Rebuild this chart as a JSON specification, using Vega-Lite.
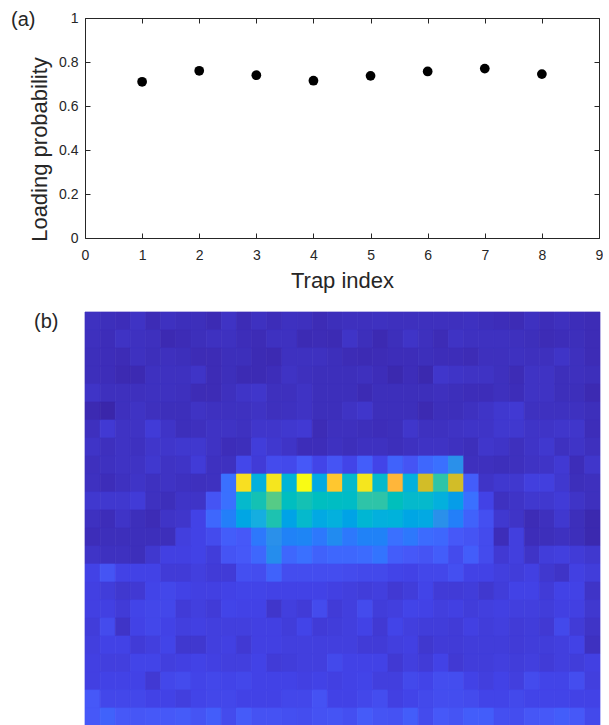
{"$schema":"https://vega.github.io/schema/vega-lite/v6.json","padding":{"left":11,"top":10,"right":0,"bottom":0},"background":"white","spacing":20,"config":{"view":{"stroke":null},"font":"Liberation Sans"},
"vconcat":[
{"width":514,"height":220,"title":{"text":"(a)","anchor":"start","frame":"group","dx":-74,"dy":5,"offset":-14,"fontSize":20,"fontWeight":"normal","font":"Liberation Sans","color":"#262626"},
"data":{"values":[{"t":1,"p":0.71},{"t":2,"p":0.76},{"t":3,"p":0.74},{"t":4,"p":0.715},{"t":5,"p":0.737},{"t":6,"p":0.757},{"t":7,"p":0.77},{"t":8,"p":0.745}]},
"layer":[
{"mark":{"type":"point","filled":true,"color":"black","opacity":1,"size":95},
"encoding":{"x":{"field":"t","type":"quantitative","scale":{"domain":[0,9],"nice":false},"axis":{"title":"Trap index","titleFontSize":22,"titleFontWeight":"normal","titleColor":"#262626","titlePadding":8,"labelFontSize":14,"labelColor":"#262626","labelPadding":15,"tickCount":10,"tickSize":-5,"tickColor":"#262626","domainColor":"#262626","grid":false,"labelAngle":0,"labelFlush":false}},
"y":{"field":"p","type":"quantitative","scale":{"domain":[0,1],"nice":false},"axis":{"title":"Loading probability","titleFontSize":22,"titleFontWeight":"normal","titleColor":"#262626","titlePadding":7,"titleY":131,"labelFontSize":14,"labelColor":"#262626","labelPadding":12,"values":[0,0.2,0.4,0.6,0.8,1],"labelExpr":"datum.value","tickSize":-5,"tickColor":"#262626","domainColor":"#262626","grid":false,"labelFlush":false}}}},
{"mark":{"type":"point","opacity":0},
"encoding":{"x":{"field":"t","type":"quantitative","scale":{"domain":[0,9],"nice":false},"axis":{"orient":"top","title":null,"labels":false,"tickCount":10,"tickSize":-5,"tickColor":"#262626","domainColor":"#262626","grid":false}},
"y":{"field":"p","type":"quantitative","scale":{"domain":[0,1],"nice":false},"axis":{"orient":"right","title":null,"labels":false,"values":[0,0.2,0.4,0.6,0.8,1],"tickSize":-5,"tickColor":"#262626","domainColor":"#262626","grid":false}}}}
],"resolve":{"axis":{"x":"independent","y":"independent"}}},
{"width":515,"height":414,"title":{"text":"(b)","anchor":"start","frame":"group","dx":-51,"dy":6,"offset":-14,"fontSize":20,"fontWeight":"normal","font":"Liberation Sans","color":"#262626"},
"data":{"values":[
{"c":0,"r":0,"v":0.05},{"c":1,"r":0,"v":0.04},{"c":2,"r":0,"v":0.035},{"c":3,"r":0,"v":0.055},{"c":4,"r":0,"v":0.03},{"c":5,"r":0,"v":0.05},{"c":6,"r":0,"v":0.04},{"c":7,"r":0,"v":0.04},{"c":8,"r":0,"v":0.025},{"c":9,"r":0,"v":0.055},{"c":10,"r":0,"v":0.03},{"c":11,"r":0,"v":0.05},{"c":12,"r":0,"v":0.035},{"c":13,"r":0,"v":0.05},{"c":14,"r":0,"v":0.045},{"c":15,"r":0,"v":0.03},{"c":16,"r":0,"v":0.04},{"c":17,"r":0,"v":0.045},{"c":18,"r":0,"v":0.045},{"c":19,"r":0,"v":0.05},{"c":20,"r":0,"v":0.045},{"c":21,"r":0,"v":0.045},{"c":22,"r":0,"v":0.045},{"c":23,"r":0,"v":0.045},{"c":24,"r":0,"v":0.045},{"c":25,"r":0,"v":0.05},{"c":26,"r":0,"v":0.04},{"c":27,"r":0,"v":0.035},{"c":28,"r":0,"v":0.03},{"c":29,"r":0,"v":0.05},{"c":30,"r":0,"v":0.035},{"c":31,"r":0,"v":0.045},{"c":32,"r":0,"v":0.035},{"c":33,"r":0,"v":0.03},
{"c":0,"r":1,"v":0.045},{"c":1,"r":1,"v":0.035},{"c":2,"r":1,"v":0.055},{"c":3,"r":1,"v":0.05},{"c":4,"r":1,"v":0.045},{"c":5,"r":1,"v":0.02},{"c":6,"r":1,"v":0.03},{"c":7,"r":1,"v":0.04},{"c":8,"r":1,"v":0.05},{"c":9,"r":1,"v":0.05},{"c":10,"r":1,"v":0.035},{"c":11,"r":1,"v":0.03},{"c":12,"r":1,"v":0.05},{"c":13,"r":1,"v":0.05},{"c":14,"r":1,"v":0.025},{"c":15,"r":1,"v":0.03},{"c":16,"r":1,"v":0.025},{"c":17,"r":1,"v":0.06},{"c":18,"r":1,"v":0.04},{"c":19,"r":1,"v":0.02},{"c":20,"r":1,"v":0.04},{"c":21,"r":1,"v":0.06},{"c":22,"r":1,"v":0.045},{"c":23,"r":1,"v":0.03},{"c":24,"r":1,"v":0.055},{"c":25,"r":1,"v":0.05},{"c":26,"r":1,"v":0.05},{"c":27,"r":1,"v":0.05},{"c":28,"r":1,"v":0.045},{"c":29,"r":1,"v":0.04},{"c":30,"r":1,"v":0.03},{"c":31,"r":1,"v":0.035},{"c":32,"r":1,"v":0.04},{"c":33,"r":1,"v":0.03},
{"c":0,"r":2,"v":0.04},{"c":1,"r":2,"v":0.035},{"c":2,"r":2,"v":0.03},{"c":3,"r":2,"v":0.05},{"c":4,"r":2,"v":0.04},{"c":5,"r":2,"v":0.045},{"c":6,"r":2,"v":0.04},{"c":7,"r":2,"v":0.03},{"c":8,"r":2,"v":0.03},{"c":9,"r":2,"v":0.04},{"c":10,"r":2,"v":0.04},{"c":11,"r":2,"v":0.025},{"c":12,"r":2,"v":0.02},{"c":13,"r":2,"v":0.05},{"c":14,"r":2,"v":0.05},{"c":15,"r":2,"v":0.05},{"c":16,"r":2,"v":0.04},{"c":17,"r":2,"v":0.03},{"c":18,"r":2,"v":0.025},{"c":19,"r":2,"v":0.03},{"c":20,"r":2,"v":0.035},{"c":21,"r":2,"v":0.035},{"c":22,"r":2,"v":0.04},{"c":23,"r":2,"v":0.035},{"c":24,"r":2,"v":0.035},{"c":25,"r":2,"v":0.03},{"c":26,"r":2,"v":0.045},{"c":27,"r":2,"v":0.045},{"c":28,"r":2,"v":0.05},{"c":29,"r":2,"v":0.045},{"c":30,"r":2,"v":0.045},{"c":31,"r":2,"v":0.06},{"c":32,"r":2,"v":0.045},{"c":33,"r":2,"v":0.03},
{"c":0,"r":3,"v":0.04},{"c":1,"r":3,"v":0.035},{"c":2,"r":3,"v":0.02},{"c":3,"r":3,"v":0.02},{"c":4,"r":3,"v":0.05},{"c":5,"r":3,"v":0.05},{"c":6,"r":3,"v":0.05},{"c":7,"r":3,"v":0.06},{"c":8,"r":3,"v":0.03},{"c":9,"r":3,"v":0.04},{"c":10,"r":3,"v":0.025},{"c":11,"r":3,"v":0.025},{"c":12,"r":3,"v":0.035},{"c":13,"r":3,"v":0.055},{"c":14,"r":3,"v":0.045},{"c":15,"r":3,"v":0.04},{"c":16,"r":3,"v":0.04},{"c":17,"r":3,"v":0.04},{"c":18,"r":3,"v":0.045},{"c":19,"r":3,"v":0.035},{"c":20,"r":3,"v":0.015},{"c":21,"r":3,"v":0.035},{"c":22,"r":3,"v":0.015},{"c":23,"r":3,"v":0.065},{"c":24,"r":3,"v":0.06},{"c":25,"r":3,"v":0.055},{"c":26,"r":3,"v":0.055},{"c":27,"r":3,"v":0.045},{"c":28,"r":3,"v":0.03},{"c":29,"r":3,"v":0.055},{"c":30,"r":3,"v":0.055},{"c":31,"r":3,"v":0.04},{"c":32,"r":3,"v":0.045},{"c":33,"r":3,"v":0.04},
{"c":0,"r":4,"v":0.06},{"c":1,"r":4,"v":0.045},{"c":2,"r":4,"v":0.045},{"c":3,"r":4,"v":0.045},{"c":4,"r":4,"v":0.05},{"c":5,"r":4,"v":0.05},{"c":6,"r":4,"v":0.045},{"c":7,"r":4,"v":0.03},{"c":8,"r":4,"v":0.03},{"c":9,"r":4,"v":0.045},{"c":10,"r":4,"v":0.06},{"c":11,"r":4,"v":0.065},{"c":12,"r":4,"v":0.045},{"c":13,"r":4,"v":0.045},{"c":14,"r":4,"v":0.055},{"c":15,"r":4,"v":0.04},{"c":16,"r":4,"v":0.04},{"c":17,"r":4,"v":0.04},{"c":18,"r":4,"v":0.025},{"c":19,"r":4,"v":0.04},{"c":20,"r":4,"v":0.04},{"c":21,"r":4,"v":0.04},{"c":22,"r":4,"v":0.04},{"c":23,"r":4,"v":0.045},{"c":24,"r":4,"v":0.04},{"c":25,"r":4,"v":0.035},{"c":26,"r":4,"v":0.035},{"c":27,"r":4,"v":0.045},{"c":28,"r":4,"v":0.035},{"c":29,"r":4,"v":0.055},{"c":30,"r":4,"v":0.055},{"c":31,"r":4,"v":0.04},{"c":32,"r":4,"v":0.04},{"c":33,"r":4,"v":0.02},
{"c":0,"r":5,"v":0.02},{"c":1,"r":5,"v":0.005},{"c":2,"r":5,"v":0.045},{"c":3,"r":5,"v":0.055},{"c":4,"r":5,"v":0.045},{"c":5,"r":5,"v":0.04},{"c":6,"r":5,"v":0.04},{"c":7,"r":5,"v":0.055},{"c":8,"r":5,"v":0.05},{"c":9,"r":5,"v":0.05},{"c":10,"r":5,"v":0.05},{"c":11,"r":5,"v":0.055},{"c":12,"r":5,"v":0.045},{"c":13,"r":5,"v":0.05},{"c":14,"r":5,"v":0.055},{"c":15,"r":5,"v":0.04},{"c":16,"r":5,"v":0.04},{"c":17,"r":5,"v":0.055},{"c":18,"r":5,"v":0.065},{"c":19,"r":5,"v":0.04},{"c":20,"r":5,"v":0.04},{"c":21,"r":5,"v":0.04},{"c":22,"r":5,"v":0.02},{"c":23,"r":5,"v":0.04},{"c":24,"r":5,"v":0.04},{"c":25,"r":5,"v":0.05},{"c":26,"r":5,"v":0.06},{"c":27,"r":5,"v":0.07},{"c":28,"r":5,"v":0.075},{"c":29,"r":5,"v":0.05},{"c":30,"r":5,"v":0.05},{"c":31,"r":5,"v":0.05},{"c":32,"r":5,"v":0.05},{"c":33,"r":5,"v":0.04},
{"c":0,"r":6,"v":0.045},{"c":1,"r":6,"v":0.075},{"c":2,"r":6,"v":0.055},{"c":3,"r":6,"v":0.055},{"c":4,"r":6,"v":0.08},{"c":5,"r":6,"v":0.06},{"c":6,"r":6,"v":0.04},{"c":7,"r":6,"v":0.045},{"c":8,"r":6,"v":0.055},{"c":9,"r":6,"v":0.055},{"c":10,"r":6,"v":0.05},{"c":11,"r":6,"v":0.065},{"c":12,"r":6,"v":0.065},{"c":13,"r":6,"v":0.07},{"c":14,"r":6,"v":0.075},{"c":15,"r":6,"v":0.03},{"c":16,"r":6,"v":0.045},{"c":17,"r":6,"v":0.045},{"c":18,"r":6,"v":0.04},{"c":19,"r":6,"v":0.035},{"c":20,"r":6,"v":0.04},{"c":21,"r":6,"v":0.065},{"c":22,"r":6,"v":0.05},{"c":23,"r":6,"v":0.05},{"c":24,"r":6,"v":0.055},{"c":25,"r":6,"v":0.06},{"c":26,"r":6,"v":0.06},{"c":27,"r":6,"v":0.07},{"c":28,"r":6,"v":0.07},{"c":29,"r":6,"v":0.06},{"c":30,"r":6,"v":0.06},{"c":31,"r":6,"v":0.065},{"c":32,"r":6,"v":0.065},{"c":33,"r":6,"v":0.035},
{"c":0,"r":7,"v":0.06},{"c":1,"r":7,"v":0.045},{"c":2,"r":7,"v":0.055},{"c":3,"r":7,"v":0.05},{"c":4,"r":7,"v":0.065},{"c":5,"r":7,"v":0.065},{"c":6,"r":7,"v":0.07},{"c":7,"r":7,"v":0.07},{"c":8,"r":7,"v":0.055},{"c":9,"r":7,"v":0.035},{"c":10,"r":7,"v":0.04},{"c":11,"r":7,"v":0.085},{"c":12,"r":7,"v":0.07},{"c":13,"r":7,"v":0.06},{"c":14,"r":7,"v":0.035},{"c":15,"r":7,"v":0.035},{"c":16,"r":7,"v":0.05},{"c":17,"r":7,"v":0.04},{"c":18,"r":7,"v":0.05},{"c":19,"r":7,"v":0.05},{"c":20,"r":7,"v":0.04},{"c":21,"r":7,"v":0.05},{"c":22,"r":7,"v":0.055},{"c":23,"r":7,"v":0.055},{"c":24,"r":7,"v":0.05},{"c":25,"r":7,"v":0.04},{"c":26,"r":7,"v":0.065},{"c":27,"r":7,"v":0.06},{"c":28,"r":7,"v":0.045},{"c":29,"r":7,"v":0.06},{"c":30,"r":7,"v":0.07},{"c":31,"r":7,"v":0.05},{"c":32,"r":7,"v":0.06},{"c":33,"r":7,"v":0.045},
{"c":0,"r":8,"v":0.045},{"c":1,"r":8,"v":0.05},{"c":2,"r":8,"v":0.055},{"c":3,"r":8,"v":0.055},{"c":4,"r":8,"v":0.07},{"c":5,"r":8,"v":0.055},{"c":6,"r":8,"v":0.06},{"c":7,"r":8,"v":0.08},{"c":8,"r":8,"v":0.05},{"c":9,"r":8,"v":0.05},{"c":10,"r":8,"v":0.11},{"c":11,"r":8,"v":0.08},{"c":12,"r":8,"v":0.12},{"c":13,"r":8,"v":0.115},{"c":14,"r":8,"v":0.15},{"c":15,"r":8,"v":0.105},{"c":16,"r":8,"v":0.14},{"c":17,"r":8,"v":0.105},{"c":18,"r":8,"v":0.16},{"c":19,"r":8,"v":0.105},{"c":20,"r":8,"v":0.17},{"c":21,"r":8,"v":0.14},{"c":22,"r":8,"v":0.18},{"c":23,"r":8,"v":0.2},{"c":24,"r":8,"v":0.3},{"c":25,"r":8,"v":0.045},{"c":26,"r":8,"v":0.045},{"c":27,"r":8,"v":0.04},{"c":28,"r":8,"v":0.045},{"c":29,"r":8,"v":0.055},{"c":30,"r":8,"v":0.06},{"c":31,"r":8,"v":0.075},{"c":32,"r":8,"v":0.035},{"c":33,"r":8,"v":0.065},
{"c":0,"r":9,"v":0.05},{"c":1,"r":9,"v":0.035},{"c":2,"r":9,"v":0.05},{"c":3,"r":9,"v":0.06},{"c":4,"r":9,"v":0.05},{"c":5,"r":9,"v":0.055},{"c":6,"r":9,"v":0.05},{"c":7,"r":9,"v":0.045},{"c":8,"r":9,"v":0.05},{"c":9,"r":9,"v":0.2},{"c":10,"r":9,"v":0.96},{"c":11,"r":9,"v":0.42},{"c":12,"r":9,"v":0.97},{"c":13,"r":9,"v":0.45},{"c":14,"r":9,"v":1},{"c":15,"r":9,"v":0.38},{"c":16,"r":9,"v":0.92},{"c":17,"r":9,"v":0.5},{"c":18,"r":9,"v":0.97},{"c":19,"r":9,"v":0.5},{"c":20,"r":9,"v":0.875},{"c":21,"r":9,"v":0.42},{"c":22,"r":9,"v":0.8},{"c":23,"r":9,"v":0.6},{"c":24,"r":9,"v":0.8},{"c":25,"r":9,"v":0.16},{"c":26,"r":9,"v":0.06},{"c":27,"r":9,"v":0.07},{"c":28,"r":9,"v":0.07},{"c":29,"r":9,"v":0.09},{"c":30,"r":9,"v":0.09},{"c":31,"r":9,"v":0.07},{"c":32,"r":9,"v":0.04},{"c":33,"r":9,"v":0.045},
{"c":0,"r":10,"v":0.07},{"c":1,"r":10,"v":0.07},{"c":2,"r":10,"v":0.07},{"c":3,"r":10,"v":0.08},{"c":4,"r":10,"v":0.05},{"c":5,"r":10,"v":0.04},{"c":6,"r":10,"v":0.06},{"c":7,"r":10,"v":0.06},{"c":8,"r":10,"v":0.14},{"c":9,"r":10,"v":0.2},{"c":10,"r":10,"v":0.5},{"c":11,"r":10,"v":0.57},{"c":12,"r":10,"v":0.68},{"c":13,"r":10,"v":0.54},{"c":14,"r":10,"v":0.57},{"c":15,"r":10,"v":0.54},{"c":16,"r":10,"v":0.53},{"c":17,"r":10,"v":0.52},{"c":18,"r":10,"v":0.6},{"c":19,"r":10,"v":0.6},{"c":20,"r":10,"v":0.55},{"c":21,"r":10,"v":0.5},{"c":22,"r":10,"v":0.5},{"c":23,"r":10,"v":0.42},{"c":24,"r":10,"v":0.34},{"c":25,"r":10,"v":0.2},{"c":26,"r":10,"v":0.1},{"c":27,"r":10,"v":0.05},{"c":28,"r":10,"v":0.06},{"c":29,"r":10,"v":0.07},{"c":30,"r":10,"v":0.07},{"c":31,"r":10,"v":0.08},{"c":32,"r":10,"v":0.06},{"c":33,"r":10,"v":0.045},
{"c":0,"r":11,"v":0.05},{"c":1,"r":11,"v":0.035},{"c":2,"r":11,"v":0.06},{"c":3,"r":11,"v":0.04},{"c":4,"r":11,"v":0.03},{"c":5,"r":11,"v":0.06},{"c":6,"r":11,"v":0.065},{"c":7,"r":11,"v":0.1},{"c":8,"r":11,"v":0.18},{"c":9,"r":11,"v":0.24},{"c":10,"r":11,"v":0.37},{"c":11,"r":11,"v":0.4},{"c":12,"r":11,"v":0.58},{"c":13,"r":11,"v":0.36},{"c":14,"r":11,"v":0.5},{"c":15,"r":11,"v":0.38},{"c":16,"r":11,"v":0.42},{"c":17,"r":11,"v":0.36},{"c":18,"r":11,"v":0.47},{"c":19,"r":11,"v":0.42},{"c":20,"r":11,"v":0.43},{"c":21,"r":11,"v":0.37},{"c":22,"r":11,"v":0.38},{"c":23,"r":11,"v":0.3},{"c":24,"r":11,"v":0.24},{"c":25,"r":11,"v":0.17},{"c":26,"r":11,"v":0.13},{"c":27,"r":11,"v":0.07},{"c":28,"r":11,"v":0.06},{"c":29,"r":11,"v":0.03},{"c":30,"r":11,"v":0.045},{"c":31,"r":11,"v":0.07},{"c":32,"r":11,"v":0.04},{"c":33,"r":11,"v":0.015},
{"c":0,"r":12,"v":0.035},{"c":1,"r":12,"v":0.04},{"c":2,"r":12,"v":0.04},{"c":3,"r":12,"v":0.04},{"c":4,"r":12,"v":0.04},{"c":5,"r":12,"v":0.04},{"c":6,"r":12,"v":0.09},{"c":7,"r":12,"v":0.1},{"c":8,"r":12,"v":0.12},{"c":9,"r":12,"v":0.16},{"c":10,"r":12,"v":0.15},{"c":11,"r":12,"v":0.22},{"c":12,"r":12,"v":0.3},{"c":13,"r":12,"v":0.25},{"c":14,"r":12,"v":0.26},{"c":15,"r":12,"v":0.22},{"c":16,"r":12,"v":0.28},{"c":17,"r":12,"v":0.22},{"c":18,"r":12,"v":0.25},{"c":19,"r":12,"v":0.25},{"c":20,"r":12,"v":0.2},{"c":21,"r":12,"v":0.22},{"c":22,"r":12,"v":0.19},{"c":23,"r":12,"v":0.18},{"c":24,"r":12,"v":0.15},{"c":25,"r":12,"v":0.14},{"c":26,"r":12,"v":0.12},{"c":27,"r":12,"v":0.035},{"c":28,"r":12,"v":0.09},{"c":29,"r":12,"v":0.035},{"c":30,"r":12,"v":0.04},{"c":31,"r":12,"v":0.05},{"c":32,"r":12,"v":0.04},{"c":33,"r":12,"v":0.015},
{"c":0,"r":13,"v":0.06},{"c":1,"r":13,"v":0.05},{"c":2,"r":13,"v":0.05},{"c":3,"r":13,"v":0.04},{"c":4,"r":13,"v":0.07},{"c":5,"r":13,"v":0.095},{"c":6,"r":13,"v":0.095},{"c":7,"r":13,"v":0.1},{"c":8,"r":13,"v":0.085},{"c":9,"r":13,"v":0.14},{"c":10,"r":13,"v":0.15},{"c":11,"r":13,"v":0.18},{"c":12,"r":13,"v":0.29},{"c":13,"r":13,"v":0.18},{"c":14,"r":13,"v":0.2},{"c":15,"r":13,"v":0.17},{"c":16,"r":13,"v":0.18},{"c":17,"r":13,"v":0.18},{"c":18,"r":13,"v":0.19},{"c":19,"r":13,"v":0.21},{"c":20,"r":13,"v":0.16},{"c":21,"r":13,"v":0.15},{"c":22,"r":13,"v":0.14},{"c":23,"r":13,"v":0.16},{"c":24,"r":13,"v":0.12},{"c":25,"r":13,"v":0.16},{"c":26,"r":13,"v":0.12},{"c":27,"r":13,"v":0.075},{"c":28,"r":13,"v":0.09},{"c":29,"r":13,"v":0.06},{"c":30,"r":13,"v":0.085},{"c":31,"r":13,"v":0.09},{"c":32,"r":13,"v":0.08},{"c":33,"r":13,"v":0.07},
{"c":0,"r":14,"v":0.1},{"c":1,"r":14,"v":0.14},{"c":2,"r":14,"v":0.1},{"c":3,"r":14,"v":0.1},{"c":4,"r":14,"v":0.1},{"c":5,"r":14,"v":0.08},{"c":6,"r":14,"v":0.08},{"c":7,"r":14,"v":0.09},{"c":8,"r":14,"v":0.08},{"c":9,"r":14,"v":0.08},{"c":10,"r":14,"v":0.13},{"c":11,"r":14,"v":0.125},{"c":12,"r":14,"v":0.17},{"c":13,"r":14,"v":0.125},{"c":14,"r":14,"v":0.125},{"c":15,"r":14,"v":0.125},{"c":16,"r":14,"v":0.125},{"c":17,"r":14,"v":0.12},{"c":18,"r":14,"v":0.115},{"c":19,"r":14,"v":0.115},{"c":20,"r":14,"v":0.105},{"c":21,"r":14,"v":0.1},{"c":22,"r":14,"v":0.11},{"c":23,"r":14,"v":0.11},{"c":24,"r":14,"v":0.13},{"c":25,"r":14,"v":0.1},{"c":26,"r":14,"v":0.1},{"c":27,"r":14,"v":0.09},{"c":28,"r":14,"v":0.085},{"c":29,"r":14,"v":0.095},{"c":30,"r":14,"v":0.07},{"c":31,"r":14,"v":0.06},{"c":32,"r":14,"v":0.095},{"c":33,"r":14,"v":0.085},
{"c":0,"r":15,"v":0.095},{"c":1,"r":15,"v":0.085},{"c":2,"r":15,"v":0.07},{"c":3,"r":15,"v":0.075},{"c":4,"r":15,"v":0.105},{"c":5,"r":15,"v":0.11},{"c":6,"r":15,"v":0.1},{"c":7,"r":15,"v":0.095},{"c":8,"r":15,"v":0.095},{"c":9,"r":15,"v":0.1},{"c":10,"r":15,"v":0.105},{"c":11,"r":15,"v":0.105},{"c":12,"r":15,"v":0.1},{"c":13,"r":15,"v":0.1},{"c":14,"r":15,"v":0.1},{"c":15,"r":15,"v":0.1},{"c":16,"r":15,"v":0.095},{"c":17,"r":15,"v":0.09},{"c":18,"r":15,"v":0.085},{"c":19,"r":15,"v":0.09},{"c":20,"r":15,"v":0.075},{"c":21,"r":15,"v":0.085},{"c":22,"r":15,"v":0.105},{"c":23,"r":15,"v":0.08},{"c":24,"r":15,"v":0.08},{"c":25,"r":15,"v":0.085},{"c":26,"r":15,"v":0.07},{"c":27,"r":15,"v":0.085},{"c":28,"r":15,"v":0.1},{"c":29,"r":15,"v":0.1},{"c":30,"r":15,"v":0.08},{"c":31,"r":15,"v":0.1},{"c":32,"r":15,"v":0.1},{"c":33,"r":15,"v":0.06},
{"c":0,"r":16,"v":0.095},{"c":1,"r":16,"v":0.095},{"c":2,"r":16,"v":0.08},{"c":3,"r":16,"v":0.105},{"c":4,"r":16,"v":0.11},{"c":5,"r":16,"v":0.11},{"c":6,"r":16,"v":0.08},{"c":7,"r":16,"v":0.09},{"c":8,"r":16,"v":0.08},{"c":9,"r":16,"v":0.105},{"c":10,"r":16,"v":0.1},{"c":11,"r":16,"v":0.1},{"c":12,"r":16,"v":0.065},{"c":13,"r":16,"v":0.09},{"c":14,"r":16,"v":0.08},{"c":15,"r":16,"v":0.12},{"c":16,"r":16,"v":0.08},{"c":17,"r":16,"v":0.09},{"c":18,"r":16,"v":0.12},{"c":19,"r":16,"v":0.085},{"c":20,"r":16,"v":0.09},{"c":21,"r":16,"v":0.105},{"c":22,"r":16,"v":0.1},{"c":23,"r":16,"v":0.09},{"c":24,"r":16,"v":0.095},{"c":25,"r":16,"v":0.085},{"c":26,"r":16,"v":0.09},{"c":27,"r":16,"v":0.095},{"c":28,"r":16,"v":0.09},{"c":29,"r":16,"v":0.09},{"c":30,"r":16,"v":0.085},{"c":31,"r":16,"v":0.095},{"c":32,"r":16,"v":0.095},{"c":33,"r":16,"v":0.07},
{"c":0,"r":17,"v":0.085},{"c":1,"r":17,"v":0.12},{"c":2,"r":17,"v":0.06},{"c":3,"r":17,"v":0.1},{"c":4,"r":17,"v":0.11},{"c":5,"r":17,"v":0.1},{"c":6,"r":17,"v":0.09},{"c":7,"r":17,"v":0.095},{"c":8,"r":17,"v":0.09},{"c":9,"r":17,"v":0.09},{"c":10,"r":17,"v":0.09},{"c":11,"r":17,"v":0.095},{"c":12,"r":17,"v":0.095},{"c":13,"r":17,"v":0.085},{"c":14,"r":17,"v":0.105},{"c":15,"r":17,"v":0.08},{"c":16,"r":17,"v":0.085},{"c":17,"r":17,"v":0.09},{"c":18,"r":17,"v":0.1},{"c":19,"r":17,"v":0.075},{"c":20,"r":17,"v":0.105},{"c":21,"r":17,"v":0.09},{"c":22,"r":17,"v":0.085},{"c":23,"r":17,"v":0.085},{"c":24,"r":17,"v":0.08},{"c":25,"r":17,"v":0.095},{"c":26,"r":17,"v":0.085},{"c":27,"r":17,"v":0.09},{"c":28,"r":17,"v":0.08},{"c":29,"r":17,"v":0.085},{"c":30,"r":17,"v":0.075},{"c":31,"r":17,"v":0.115},{"c":32,"r":17,"v":0.08},{"c":33,"r":17,"v":0.06},
{"c":0,"r":18,"v":0.09},{"c":1,"r":18,"v":0.1},{"c":2,"r":18,"v":0.1},{"c":3,"r":18,"v":0.08},{"c":4,"r":18,"v":0.09},{"c":5,"r":18,"v":0.105},{"c":6,"r":18,"v":0.07},{"c":7,"r":18,"v":0.07},{"c":8,"r":18,"v":0.09},{"c":9,"r":18,"v":0.095},{"c":10,"r":18,"v":0.075},{"c":11,"r":18,"v":0.095},{"c":12,"r":18,"v":0.095},{"c":13,"r":18,"v":0.09},{"c":14,"r":18,"v":0.09},{"c":15,"r":18,"v":0.09},{"c":16,"r":18,"v":0.09},{"c":17,"r":18,"v":0.09},{"c":18,"r":18,"v":0.08},{"c":19,"r":18,"v":0.08},{"c":20,"r":18,"v":0.09},{"c":21,"r":18,"v":0.095},{"c":22,"r":18,"v":0.07},{"c":23,"r":18,"v":0.08},{"c":24,"r":18,"v":0.08},{"c":25,"r":18,"v":0.085},{"c":26,"r":18,"v":0.085},{"c":27,"r":18,"v":0.085},{"c":28,"r":18,"v":0.08},{"c":29,"r":18,"v":0.085},{"c":30,"r":18,"v":0.085},{"c":31,"r":18,"v":0.09},{"c":32,"r":18,"v":0.1},{"c":33,"r":18,"v":0.05},
{"c":0,"r":19,"v":0.095},{"c":1,"r":19,"v":0.09},{"c":2,"r":19,"v":0.09},{"c":3,"r":19,"v":0.105},{"c":4,"r":19,"v":0.105},{"c":5,"r":19,"v":0.09},{"c":6,"r":19,"v":0.095},{"c":7,"r":19,"v":0.1},{"c":8,"r":19,"v":0.095},{"c":9,"r":19,"v":0.09},{"c":10,"r":19,"v":0.09},{"c":11,"r":19,"v":0.1},{"c":12,"r":19,"v":0.08},{"c":13,"r":19,"v":0.085},{"c":14,"r":19,"v":0.09},{"c":15,"r":19,"v":0.09},{"c":16,"r":19,"v":0.115},{"c":17,"r":19,"v":0.1},{"c":18,"r":19,"v":0.1},{"c":19,"r":19,"v":0.1},{"c":20,"r":19,"v":0.075},{"c":21,"r":19,"v":0.09},{"c":22,"r":19,"v":0.08},{"c":23,"r":19,"v":0.1},{"c":24,"r":19,"v":0.075},{"c":25,"r":19,"v":0.085},{"c":26,"r":19,"v":0.085},{"c":27,"r":19,"v":0.09},{"c":28,"r":19,"v":0.085},{"c":29,"r":19,"v":0.09},{"c":30,"r":19,"v":0.08},{"c":31,"r":19,"v":0.09},{"c":32,"r":19,"v":0.085},{"c":33,"r":19,"v":0.095},
{"c":0,"r":20,"v":0.095},{"c":1,"r":20,"v":0.1},{"c":2,"r":20,"v":0.1},{"c":3,"r":20,"v":0.1},{"c":4,"r":20,"v":0.075},{"c":5,"r":20,"v":0.11},{"c":6,"r":20,"v":0.12},{"c":7,"r":20,"v":0.105},{"c":8,"r":20,"v":0.11},{"c":9,"r":20,"v":0.105},{"c":10,"r":20,"v":0.11},{"c":11,"r":20,"v":0.1},{"c":12,"r":20,"v":0.1},{"c":13,"r":20,"v":0.1},{"c":14,"r":20,"v":0.095},{"c":15,"r":20,"v":0.1},{"c":16,"r":20,"v":0.095},{"c":17,"r":20,"v":0.1},{"c":18,"r":20,"v":0.105},{"c":19,"r":20,"v":0.09},{"c":20,"r":20,"v":0.09},{"c":21,"r":20,"v":0.115},{"c":22,"r":20,"v":0.105},{"c":23,"r":20,"v":0.125},{"c":24,"r":20,"v":0.125},{"c":25,"r":20,"v":0.1},{"c":26,"r":20,"v":0.09},{"c":27,"r":20,"v":0.1},{"c":28,"r":20,"v":0.09},{"c":29,"r":20,"v":0.12},{"c":30,"r":20,"v":0.105},{"c":31,"r":20,"v":0.105},{"c":32,"r":20,"v":0.125},{"c":33,"r":20,"v":0.09},
{"c":0,"r":21,"v":0.15},{"c":1,"r":21,"v":0.11},{"c":2,"r":21,"v":0.11},{"c":3,"r":21,"v":0.11},{"c":4,"r":21,"v":0.1},{"c":5,"r":21,"v":0.1},{"c":6,"r":21,"v":0.09},{"c":7,"r":21,"v":0.105},{"c":8,"r":21,"v":0.11},{"c":9,"r":21,"v":0.11},{"c":10,"r":21,"v":0.1},{"c":11,"r":21,"v":0.1},{"c":12,"r":21,"v":0.1},{"c":13,"r":21,"v":0.11},{"c":14,"r":21,"v":0.11},{"c":15,"r":21,"v":0.135},{"c":16,"r":21,"v":0.1},{"c":17,"r":21,"v":0.1},{"c":18,"r":21,"v":0.11},{"c":19,"r":21,"v":0.125},{"c":20,"r":21,"v":0.095},{"c":21,"r":21,"v":0.105},{"c":22,"r":21,"v":0.115},{"c":23,"r":21,"v":0.125},{"c":24,"r":21,"v":0.125},{"c":25,"r":21,"v":0.12},{"c":26,"r":21,"v":0.105},{"c":27,"r":21,"v":0.105},{"c":28,"r":21,"v":0.115},{"c":29,"r":21,"v":0.105},{"c":30,"r":21,"v":0.105},{"c":31,"r":21,"v":0.105},{"c":32,"r":21,"v":0.1},{"c":33,"r":21,"v":0.1},
{"c":0,"r":22,"v":0.15},{"c":1,"r":22,"v":0.17},{"c":2,"r":22,"v":0.15},{"c":3,"r":22,"v":0.145},{"c":4,"r":22,"v":0.15},{"c":5,"r":22,"v":0.15},{"c":6,"r":22,"v":0.155},{"c":7,"r":22,"v":0.14},{"c":8,"r":22,"v":0.16},{"c":9,"r":22,"v":0.12},{"c":10,"r":22,"v":0.155},{"c":11,"r":22,"v":0.135},{"c":12,"r":22,"v":0.135},{"c":13,"r":22,"v":0.13},{"c":14,"r":22,"v":0.125},{"c":15,"r":22,"v":0.135},{"c":16,"r":22,"v":0.14},{"c":17,"r":22,"v":0.13},{"c":18,"r":22,"v":0.155},{"c":19,"r":22,"v":0.14},{"c":20,"r":22,"v":0.135},{"c":21,"r":22,"v":0.16},{"c":22,"r":22,"v":0.12},{"c":23,"r":22,"v":0.15},{"c":24,"r":22,"v":0.14},{"c":25,"r":22,"v":0.16},{"c":26,"r":22,"v":0.16},{"c":27,"r":22,"v":0.13},{"c":28,"r":22,"v":0.125},{"c":29,"r":22,"v":0.145},{"c":30,"r":22,"v":0.15},{"c":31,"r":22,"v":0.16},{"c":32,"r":22,"v":0.15},{"c":33,"r":22,"v":0.115}
]},
"mark":{"type":"rect","strokeWidth":0.7},
"encoding":{"x":{"field":"c","type":"ordinal","axis":null,"scale":{"paddingInner":0,"paddingOuter":0}},
"y":{"field":"r","type":"ordinal","axis":null,"scale":{"paddingInner":0,"paddingOuter":0}},
"stroke":{"field":"v","type":"quantitative","legend":null,"scale":{"domain":[0,0.05,0.1,0.15,0.2,0.3,0.4,0.5,0.6,0.7,0.8,0.875,0.925,0.97,1],"range":["#3a25a8","#3e31c0","#4242e6","#4658f8","#3a70ff","#2a90ea","#15aee0","#05b9cc","#2ec4a8","#62cc7c","#d2bd28","#ffb63a","#ffc92e","#f5e61e","#f9fb14"]}},
"color":{"field":"v","type":"quantitative","legend":null,"scale":{"domain":[0,0.05,0.1,0.15,0.2,0.3,0.4,0.5,0.6,0.7,0.8,0.875,0.925,0.97,1],"range":["#3a25a8","#3e31c0","#4242e6","#4658f8","#3a70ff","#2a90ea","#15aee0","#05b9cc","#2ec4a8","#62cc7c","#d2bd28","#ffb63a","#ffc92e","#f5e61e","#f9fb14"]}}}}
]}
